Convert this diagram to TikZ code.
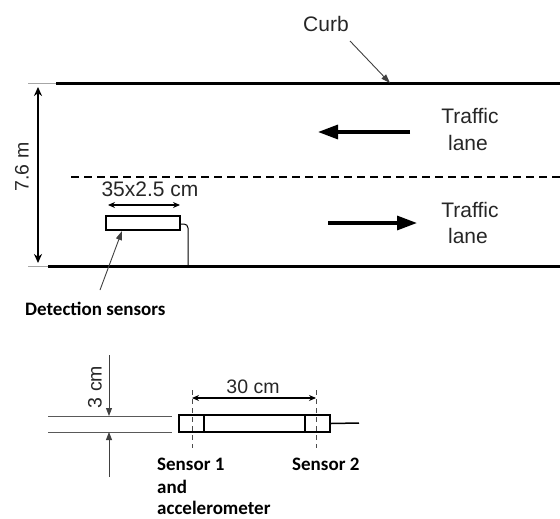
\documentclass[tikz,border=0pt]{standalone}
\usepackage{fontspec}
\setmainfont{Liberation Sans}
\newfontfamily\lblfont{Carlito}
\usetikzlibrary{arrows.meta}

\begin{document}
\begin{tikzpicture}[x=1pt,y=-1pt,
  road/.style={line width=3pt},
  stub/.style={line width=1pt, gray!70},
  flow/.style={line width=3.2pt, -{Triangle[length=20pt,width=14pt]}},
  dimbold/.style={line width=2.6pt, {Stealth[length=9pt,width=8pt]}-{Stealth[length=9pt,width=8pt]}},
  dimthin/.style={line width=1.1pt, {Stealth[length=7pt,width=6pt]}-{Stealth[length=7pt,width=6pt]}},
  pointer/.style={line width=0.9pt, black!75, -{Triangle[length=9pt,width=6pt]}},
  sans/.style={font=\fontsize{21}{25}\selectfont, inner sep=0pt, text=black!85},
  sanssm/.style={font=\fontsize{19.5}{23}\selectfont, inner sep=0pt, text=black!85},
  lbl/.style={font=\lblfont\bfseries\fontsize{19}{23}\selectfont, inner sep=0pt},
  box/.style={draw, line width=2pt, inner sep=0pt},
  guide/.style={line width=0.8pt, black!70, dash pattern=on 5pt off 4pt}]
\useasboundingbox (0,0) rectangle (560,519);

% ---------- road plan ----------
\coordinate (topA) at (28,84);
\coordinate (topB) at (60,84);
\coordinate (topC) at (56,84);
\coordinate (topD) at (560,84);
\coordinate (botA) at (28,266);
\coordinate (botB) at (52,266);
\coordinate (botC) at (48,266);
\coordinate (botD) at (560,266);
\draw[stub] (topA) -- (topB);
\draw[road] (topC) -- (topD);
\draw[stub] (botA) -- (botB);
\draw[road] (botC) -- (botD);

% lane divider
\coordinate (midA) at (71,177);
\coordinate (midB) at (560,177);
\draw[line width=1.5pt, dash pattern=on 8pt off 5pt] (midA) -- (midB);

% road width
\coordinate (wTop) at (38,87);
\coordinate (wBot) at (38,263);
\draw[dimbold] (wTop) -- (wBot);
\node[sanssm, rotate=90] (wlabel) at (22,167) {7.6 m};

% curb
\node[sans, anchor=base] (curb) at (326,32) {Curb};
\coordinate (curbTail) at (350,41);
\coordinate (curbTip) at (390,83);
\draw[pointer] (curbTail) -- (curbTip);

% traffic lanes
\node[sans, anchor=base] (trafA) at (470,123) {Traffic};
\node[sans, anchor=base] (laneA) at (468,150) {lane};
\coordinate (flowAs) at (410,132);
\coordinate (flowAe) at (318,132);
\draw[flow] (flowAs) -- (flowAe);

\node[sans, anchor=base] (trafB) at (470,217) {Traffic};
\node[sans, anchor=base] (laneB) at (468,243) {lane};
\coordinate (flowBs) at (328,223);
\coordinate (flowBe) at (417,223);
\draw[flow] (flowBs) -- (flowBe);

% detection sensor strip
\node[box, minimum width=74pt, minimum height=14pt] (det) at (143,223) {};
\coordinate (cableEnd) at (188,266);
\draw[line width=1pt, rounded corners=4pt] ([yshift=-1pt]det.east) -| (cableEnd);
\coordinate (sizeL) at (108,205);
\coordinate (sizeR) at (180,205);
\draw[dimthin, line width=1.5pt] (sizeL) -- (sizeR);
\node[sans, anchor=base] (size) at (150,196) {35x2.5 cm};

\node[lbl, anchor=base west] (detlbl) at (25,315) {Detection sensors};
\coordinate (detTail) at (100,290);
\draw[pointer] (detTail) -- ([xshift=-21pt]det.south);

% ---------- sensor detail ----------
\coordinate (thA) at (48,416);
\coordinate (thB) at (172,416);
\coordinate (thC) at (48,432);
\coordinate (thD) at (172,432);
\draw[line width=1pt, black!65] (thA) -- (thB);
\draw[line width=1pt, black!65] (thC) -- (thD);
\coordinate (thUp) at (109,355);
\coordinate (thUpTip) at (109,416);
\coordinate (thLo) at (109,477);
\coordinate (thLoTip) at (109,432);
\draw[line width=0.9pt, black!75, -{Triangle[length=8pt,width=6pt]}] (thUp) -- (thUpTip);
\draw[line width=0.9pt, black!75, -{Triangle[length=8pt,width=6pt]}] (thLo) -- (thLoTip);
\node[sanssm, rotate=90] (thick) at (95,387) {3 cm};

\node[box, line width=2.4pt, minimum width=151pt, minimum height=17pt] (strip) at (254.5,423.5) {};
\coordinate (in1t) at (204,415);
\coordinate (in1b) at (204,432);
\coordinate (in2t) at (305,415);
\coordinate (in2b) at (305,432);
\draw[line width=2.2pt] (in1t) -- (in1b);
\draw[line width=2.2pt] (in2t) -- (in2b);
\coordinate (cable2) at (359,423);
\draw[line width=1.5pt] (strip.east) -- (cable2);

\coordinate (g1t) at (192,390);
\coordinate (g1b) at (192,448);
\coordinate (g2t) at (316,390);
\coordinate (g2b) at (316,448);
\draw[guide] (g1t) -- (g1b);
\draw[guide] (g2t) -- (g2b);
\coordinate (spanL) at (192,398);
\coordinate (spanR) at (316,398);
\draw[dimthin] (spanL) -- (spanR);
\node[sanssm, anchor=base] (span) at (253,393) {30 cm};

\node[lbl, anchor=base west] (s1) at (157,470) {Sensor 1};
\node[lbl, anchor=base west] (s1b) at (157,493) {and};
\node[lbl, anchor=base west] (s1c) at (157,514) {accelerometer};
\node[lbl, anchor=base west] (s2) at (292,470) {Sensor 2};
\end{tikzpicture}
\end{document}
